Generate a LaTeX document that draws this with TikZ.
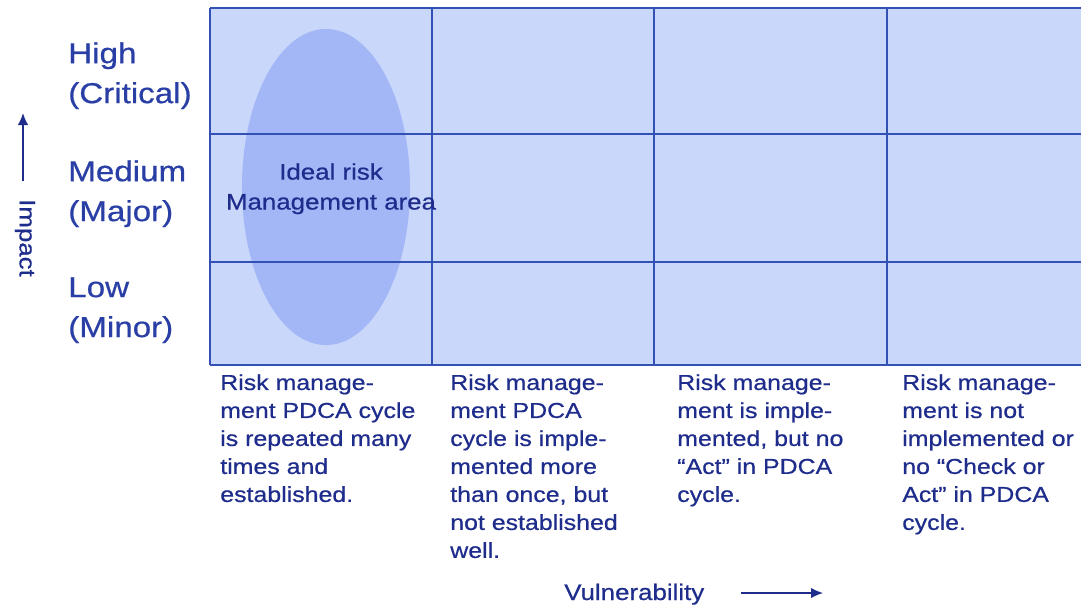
\documentclass[tikz,border=0pt]{standalone}
\usepackage{fontspec}
\setmainfont{Liberation Sans}[FakeStretch=1.15, FakeBold=0.6]
\usetikzlibrary{arrows.meta,positioning,shapes.geometric}
\definecolor{mynavy}{HTML}{1E2C8C}
\definecolor{mylabel}{HTML}{2A3FA6}
\definecolor{mygrid}{HTML}{3350B5}
\definecolor{mycell}{HTML}{C9D7FB}
\definecolor{myoval}{HTML}{A3B6F6}
\tikzset{
	gridline/.style={draw=mygrid, line width=1.1pt},
	level/.style={
		anchor=north west, align=left, inner sep=0,
		text=mylabel, font=\fontsize{20.5}{28.4}\selectfont,
	},
	desc/.style={
		anchor=north west, align=left, inner sep=0,
		text=mynavy, font=\fontsize{15.4}{19.9}\selectfont,
	},
	axis/.style={
		draw=mynavy, line width=0.9pt, -{Latex[length=3mm,width=2.6mm]},
	}
}

\begin{document}
\begin{tikzpicture}[x=0.025cm, y=-0.025cm]
	\useasboundingbox (0,0) rectangle (1081,608);
	\fill[white] (0,0) rectangle (1081,608);
	% Matrix cells
	\fill[mycell] (210,8) rectangle (1081,365);
	\node [ellipse, fill=myoval, inner sep=0, minimum width=4.2cm, minimum height=7.9cm] (oval) at (326,187) {};
	\foreach \y in {8,134,262,365}
		\draw[gridline] (210,\y) -- (1081,\y);
	\foreach \x in {210,432,654,887}
		\draw[gridline] (\x,8) -- (\x,365);
	% Ideal area
	\node [align=center, inner sep=0, anchor=north, text=mynavy, font=\fontsize{16}{21.3}\selectfont] (ideal) at (331,163) {Ideal risk\\Management area};
	% Impact levels
	\node [level] (high) at (68,42) {High\\(Critical)};
	\node [level] (medium) at (68,160) {Medium\\(Major)};
	\node [level] (low) at (68,277) {Low\\(Minor)};
	% Impact axis
	\coordinate (imptail) at (23,181);
	\coordinate (imphead) at (23,113);
	\draw[axis] (imptail) -- (imphead);
	\node [rotate=-90, inner sep=0, text=mynavy, font=\fontsize{16}{19}\selectfont] (impact) at (25,238) {Impact};
	% Vulnerability descriptions
	\node [desc] (vul1) at (220,374) {Risk manage-\\ment PDCA cycle\\is repeated many\\times and\\established.};
	\node [desc] (vul2) at (450,374) {Risk manage-\\ment PDCA\\cycle is imple-\\mented more\\than once, but\\not established\\well.};
	\node [desc] (vul3) at (677,374) {Risk manage-\\ment is imple-\\mented, but no\\“Act” in PDCA\\cycle.};
	\node [desc] (vul4) at (902,374) {Risk manage-\\ment is not\\implemented or\\no “Check or\\Act” in PDCA\\cycle.};
	% Vulnerability axis
	\node [anchor=base west, inner sep=0, text=mynavy, font=\fontsize{16}{19}\selectfont] (vulner) at (564,600) {Vulnerability};
	\coordinate (vultail) at (741,593);
	\coordinate (vulhead) at (823,593);
	\draw[axis] (vultail) -- (vulhead);
\end{tikzpicture}
\end{document}
